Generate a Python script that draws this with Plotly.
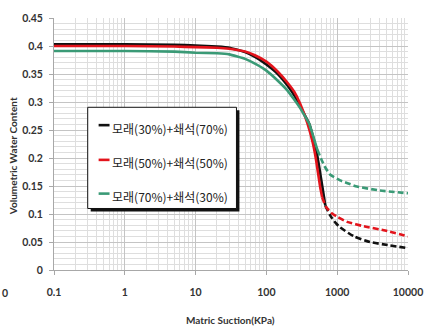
import plotly.graph_objects as go

# ---------------- data ----------------
series_names = ["모래(30%)+쇄석(70%)", "모래(50%)+쇄석(50%)", "모래(70%)+쇄석(30%)"]
series_colors = ["#111111", "#e3141c", "#3a9a76"]

black_solid_x = [0.1, 1, 5, 10, 20, 30, 50, 70, 100, 145, 200, 250, 300, 406, 498, 560, 620, 680]
black_solid_y = [0.403, 0.403, 0.402, 0.401, 0.399, 0.397, 0.389, 0.38, 0.367, 0.350, 0.329, 0.311, 0.292, 0.260, 0.219, 0.182, 0.147, 0.115]
black_dash_x = [680, 800, 950, 1100, 1730, 2900, 5500, 10000]
black_dash_y = [0.115, 0.097, 0.084, 0.076, 0.06, 0.05, 0.044, 0.039]

red_solid_x = [0.1, 1, 5, 10, 20, 30, 50, 70, 100, 145, 200, 248, 300, 380, 450, 498, 575, 613]
red_solid_y = [0.400, 0.400, 0.399, 0.398, 0.397, 0.395, 0.390, 0.383, 0.372, 0.354, 0.334, 0.318, 0.297, 0.262, 0.228, 0.20, 0.148, 0.13]
red_dash_x = [613, 700, 846, 1000, 1380, 2390, 4540, 10000]
red_dash_y = [0.13, 0.112, 0.101, 0.095, 0.086, 0.078, 0.071, 0.06]

green_solid_x = [0.1, 1, 5, 10, 20, 30, 50, 70, 100, 145, 200, 297, 406, 498, 524]
green_solid_y = [0.391, 0.391, 0.390, 0.388, 0.387, 0.385, 0.377, 0.368, 0.356, 0.338, 0.320, 0.290, 0.260, 0.224, 0.215]
green_dash_x = [524, 600, 679, 800, 1100, 1400, 1900, 4000, 10000]
green_dash_y = [0.215, 0.197, 0.183, 0.17, 0.16, 0.155, 0.149, 0.142, 0.137]

x_tick_vals = [0.1, 1, 10, 100, 1000, 10000]
x_tick_text = ["0.1", "1", "10", "100", "1000", "10000"]
y_tick_vals = [0, 0.05, 0.1, 0.15, 0.2, 0.25, 0.3, 0.35, 0.4, 0.45]
y_tick_text = ["0", "0.05", "0.1", "0.15", "0.2", "0.25", "0.3", "0.35", "0.4", "0.45"]

x_title = "Matric Suction(KPa)"
y_title = "Volumetric Water Content"
stray_label = "0"

# ---------------- figure ----------------
W, H = 435, 329
L, R, T, B = 54, 24, 16, 59
PW, PH = W - L - R, H - T - B

def px(xpix):
    return (xpix - L) / PW

def py(ypix):
    return (H - B - ypix) / PH

fig = go.Figure()
solids = [(black_solid_x, black_solid_y), (red_solid_x, red_solid_y), (green_solid_x, green_solid_y)]
dashes = [(black_dash_x, black_dash_y), (red_dash_x, red_dash_y), (green_dash_x, green_dash_y)]
for (sx, sy), (dx, dy), name, col in zip(solids, dashes, series_names, series_colors):
    fig.add_trace(go.Scatter(x=sx, y=sy, mode="lines", name=name,
                             line=dict(color=col, width=2.6, shape="spline", smoothing=0.3),
                             showlegend=False))
    fig.add_trace(go.Scatter(x=dx, y=dy, mode="lines", name=name,
                             line=dict(color=col, width=2.6, dash="6px,3px", shape="spline", smoothing=0.5),
                             showlegend=False))

tick_font = dict(family="Lato, 'Noto Sans', sans-serif", size=10.5, color="#333333", weight="bold")

fig.update_xaxes(type="log", range=[-1, 4], tickvals=x_tick_vals, ticktext=x_tick_text,
                 showgrid=True, gridcolor="#c4c4c4", gridwidth=1,
                 minor=dict(dtick="D1", showgrid=True, gridcolor="#dedede", gridwidth=1),
                 showline=True, linecolor="#a8a8a8", linewidth=1,
                 ticks="outside", ticklen=4, tickcolor="#a8a8a8",
                 tickfont=tick_font, ticklabelstandoff=8, zeroline=False)
fig.update_yaxes(range=[0, 0.45], tickvals=y_tick_vals, ticktext=y_tick_text,
                 showgrid=True, gridcolor="#c4c4c4", gridwidth=1,
                 minor=dict(dtick=0.01, showgrid=True, gridcolor="#dedede", gridwidth=1),
                 showline=True, linecolor="#a8a8a8", linewidth=1,
                 ticks="outside", ticklen=4, tickcolor="#a8a8a8",
                 tickfont=tick_font, ticklabelstandoff=4, zeroline=False)

# legend box (drawn manually to match the short sample lines of the original)
box_l, box_r, box_t, box_b = 88, 238, 106, 208
shapes = [
    dict(type="rect", xref="paper", yref="paper", x0=px(box_l + 3), x1=px(box_r + 3),
         y0=py(box_b + 3), y1=py(box_t + 3), fillcolor="#111111", line=dict(width=0), layer="above"),
    dict(type="rect", xref="paper", yref="paper", x0=px(box_l), x1=px(box_r),
         y0=py(box_b), y1=py(box_t), fillcolor="white", line=dict(color="#111111", width=1), layer="above"),
]
row_y = [127, 162, 196]
annotations = []
for name, col, ry in zip(series_names, series_colors, row_y):
    shapes.append(dict(type="line", xref="paper", yref="paper", x0=px(99), x1=px(110),
                       y0=py(ry - 3), y1=py(ry - 3), line=dict(color=col, width=2.6), layer="above"))
    annotations.append(dict(text=name, xref="paper", yref="paper", x=px(110), y=py(ry),
                            xanchor="left", yanchor="middle", showarrow=False,
                            font=dict(family="'Noto Sans CJK KR', sans-serif", size=12, color="#222222")))

annotations.append(dict(text=x_title, xref="paper", yref="paper", x=px(232), y=py(320),
                        xanchor="center", yanchor="middle", showarrow=False,
                        font=dict(family="Lato, sans-serif", size=10, color="#333333", weight="bold")))
annotations.append(dict(text=y_title, xref="paper", yref="paper", x=px(13), y=py(155),
                        xanchor="center", yanchor="middle", showarrow=False, textangle=-90,
                        font=dict(family="Lato, sans-serif", size=10, color="#333333", weight="bold")))
annotations.append(dict(text=stray_label, xref="paper", yref="paper", x=px(0), y=py(293),
                        xanchor="left", yanchor="middle", showarrow=False,
                        font=tick_font))

fig.update_layout(width=W, height=H, margin=dict(l=L, r=R, t=T, b=B),
                  paper_bgcolor="white", plot_bgcolor="white",
                  shapes=shapes, annotations=annotations, showlegend=False)

fig.write_html("out.html")
